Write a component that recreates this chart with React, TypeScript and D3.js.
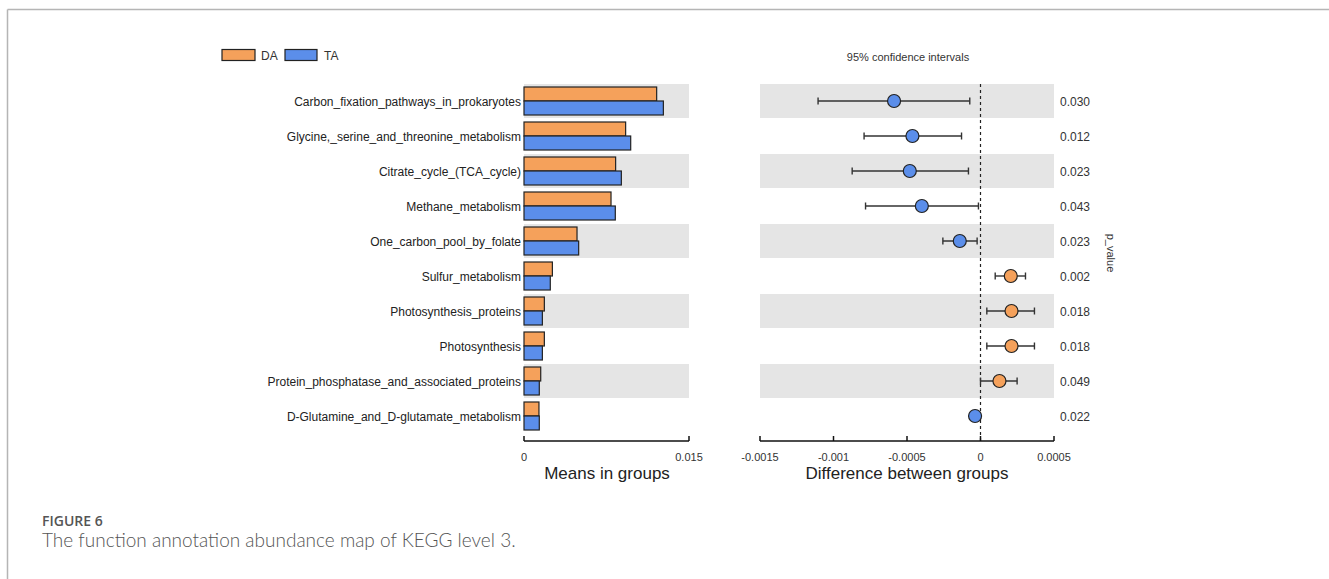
import * as d3 from "d3";

// pathways, top to bottom
const pathways = [
  "Carbon_fixation_pathways_in_prokaryotes",
  "Glycine,_serine_and_threonine_metabolism",
  "Citrate_cycle_(TCA_cycle)",
  "Methane_metabolism",
  "One_carbon_pool_by_folate",
  "Sulfur_metabolism",
  "Photosynthesis_proteins",
  "Photosynthesis",
  "Protein_phosphatase_and_associated_proteins",
  "D-Glutamine_and_D-glutamate_metabolism",
];

const meanDA = [0.01206, 0.00924, 0.00833, 0.00791, 0.00482, 0.00258, 0.00185, 0.00185, 0.00152, 0.00136];
const meanTA = [0.01267, 0.0097, 0.00885, 0.0083, 0.00497, 0.00239, 0.00167, 0.00167, 0.00139, 0.00139];

const diff = [-0.000588, -0.000463, -0.000481, -0.000399, -0.000141, 0.000206, 0.000211, 0.000211, 0.000129, -0.000037];
const ciLow = [-0.001105, -0.000792, -0.000873, -0.000782, -0.000256, 0.0001, 0.000043, 0.000043, 0.0, -0.00005];
const ciHigh = [-0.000073, -0.000129, -0.000082, -0.000014, -0.000023, 0.000306, 0.000367, 0.000367, 0.000249, -0.000022];
const pValues = ["0.030", "0.012", "0.023", "0.043", "0.023", "0.002", "0.018", "0.018", "0.049", "0.022"];

const meanTicks = [0, 0.015];
const meanTickLabels = ["0", "0.015"];
const diffTicks = [-0.0015, -0.001, -0.0005, 0, 0.0005];
const diffTickLabels = ["-0.0015", "-0.001", "-0.0005", "0", "0.0005"];

const ORANGE = "#F5A15B";
const BLUE = "#5B8EEA";
const BAND = "#E5E5E5";
const FONT = "'Liberation Sans', Arial, sans-serif";

export default function App() {
  const width = 1329;
  const height = 579;

  const y = d3.scaleBand<string>().domain(pathways).range([83.5, 433.5]).paddingInner(0);
  const xMean = d3.scaleLinear().domain([0, 0.015]).range([524, 689]);
  const xDiff = d3.scaleLinear().domain([-0.0015, 0.0005]).range([760, 1054]);
  const axisY = 441;
  const barH = 14;

  return (
    <svg
      width={width}
      height={height}
      style={{ position: "absolute", left: 0, top: 0, background: "#fff" }}
      fontFamily={FONT}
    >
      {/* frame */}
      <line x1={7.5} y1={9.5} x2={width} y2={9.5} stroke="#b5b5b5" strokeWidth={1.5} />
      <line x1={7.5} y1={9.5} x2={7.5} y2={height} stroke="#b5b5b5" strokeWidth={1.5} />

      {/* legend */}
      <rect x={222} y={49.5} width={33} height={11} fill={ORANGE} stroke="#222" strokeWidth={1.2} />
      <text x={261} y={59.5} fontSize={12} fill="#333">DA</text>
      <rect x={285} y={49.5} width={32} height={11} fill={BLUE} stroke="#222" strokeWidth={1.2} />
      <text x={324} y={59.5} fontSize={12} fill="#333">TA</text>

      {/* bands */}
      {pathways.map((p, i) =>
        i % 2 === 0 ? (
          <g key={"b" + p}>
            <rect x={xMean(0)} y={y(p)! + 0.5} width={xMean(0.015) - xMean(0)} height={y.bandwidth() - 1} fill={BAND} />
            <rect x={xDiff(-0.0015)} y={y(p)! + 0.5} width={xDiff(0.0005) - xDiff(-0.0015)} height={y.bandwidth() - 1} fill={BAND} />
          </g>
        ) : null
      )}

      {/* left: means */}
      {pathways.map((p, i) => {
        const c = y(p)! + y.bandwidth() / 2;
        return (
          <g key={"m" + p}>
            <text x={521} y={c + 1} dy="0.35em" textAnchor="end" fontSize={12} fill="#222">{p}</text>
            <rect x={xMean(0)} y={c - barH} width={xMean(meanDA[i]) - xMean(0)} height={barH} fill={ORANGE} stroke="#222" strokeWidth={1.2} />
            <rect x={xMean(0)} y={c} width={xMean(meanTA[i]) - xMean(0)} height={barH} fill={BLUE} stroke="#222" strokeWidth={1.2} />
          </g>
        );
      })}

      {/* left axis */}
      <line x1={xMean(0)} x2={xMean(0.015)} y1={axisY} y2={axisY} stroke="#111" strokeWidth={1.5} />
      {meanTicks.map((t, i) => (
        <g key={"mt" + t}>
          <line x1={xMean(t)} x2={xMean(t)} y1={axisY - 5} y2={axisY} stroke="#111" strokeWidth={1.5} />
          <text x={xMean(t)} y={457} dy="0.35em" textAnchor="middle" fontSize={11} fill="#333">{meanTickLabels[i]}</text>
        </g>
      ))}
      <text x={607} y={473} dy="0.35em" textAnchor="middle" fontSize={17} fill="#222">Means in groups</text>

      {/* right: differences */}
      <text x={908} y={57} dy="0.35em" textAnchor="middle" fontSize={11} fill="#333">95% confidence intervals</text>
      <line x1={xDiff(0)} x2={xDiff(0)} y1={84} y2={axisY} stroke="#222" strokeWidth={1.2} strokeDasharray="3 3" />
      {pathways.map((p, i) => {
        const c = y(p)! + y.bandwidth() / 2;
        return (
          <g key={"d" + p}>
            <line x1={xDiff(ciLow[i])} x2={xDiff(ciHigh[i])} y1={c} y2={c} stroke="#333" strokeWidth={1.4} />
            <line x1={xDiff(ciLow[i])} x2={xDiff(ciLow[i])} y1={c - 3.5} y2={c + 3.5} stroke="#333" strokeWidth={1.4} />
            <line x1={xDiff(ciHigh[i])} x2={xDiff(ciHigh[i])} y1={c - 3.5} y2={c + 3.5} stroke="#333" strokeWidth={1.4} />
            <circle cx={xDiff(diff[i])} cy={c} r={6.5} fill={diff[i] < 0 ? BLUE : ORANGE} stroke="#222" strokeWidth={1.2} />
            <text x={1060} y={c + 1} dy="0.35em" fontSize={12} fill="#333">{pValues[i]}</text>
          </g>
        );
      })}

      {/* right axis */}
      <line x1={xDiff(-0.0015)} x2={xDiff(0.0005)} y1={axisY} y2={axisY} stroke="#111" strokeWidth={1.5} />
      {diffTicks.map((t, i) => (
        <g key={"dt" + t}>
          <line x1={xDiff(t)} x2={xDiff(t)} y1={axisY - 5} y2={axisY} stroke="#111" strokeWidth={1.5} />
          <text x={xDiff(t)} y={457} dy="0.35em" textAnchor="middle" fontSize={11} fill="#333">{diffTickLabels[i]}</text>
        </g>
      ))}
      <text x={907} y={473} dy="0.35em" textAnchor="middle" fontSize={17} fill="#222">Difference between groups</text>

      <text transform="translate(1111,253) rotate(90)" textAnchor="middle" dy="0.35em" fontSize={11} fill="#333">p_value</text>

      {/* caption */}
      <text x={42} y={526} fontSize={14} fill="#555" fontFamily="'Open Sans', Lato, sans-serif" fontWeight={600}>FIGURE 6</text>
      <text x={42} y={547} fontSize={19} fill="#555" fontFamily="Lato, 'Open Sans', sans-serif" fontWeight={300}>The function annotation abundance map of KEGG level 3.</text>
    </svg>
  );
}
